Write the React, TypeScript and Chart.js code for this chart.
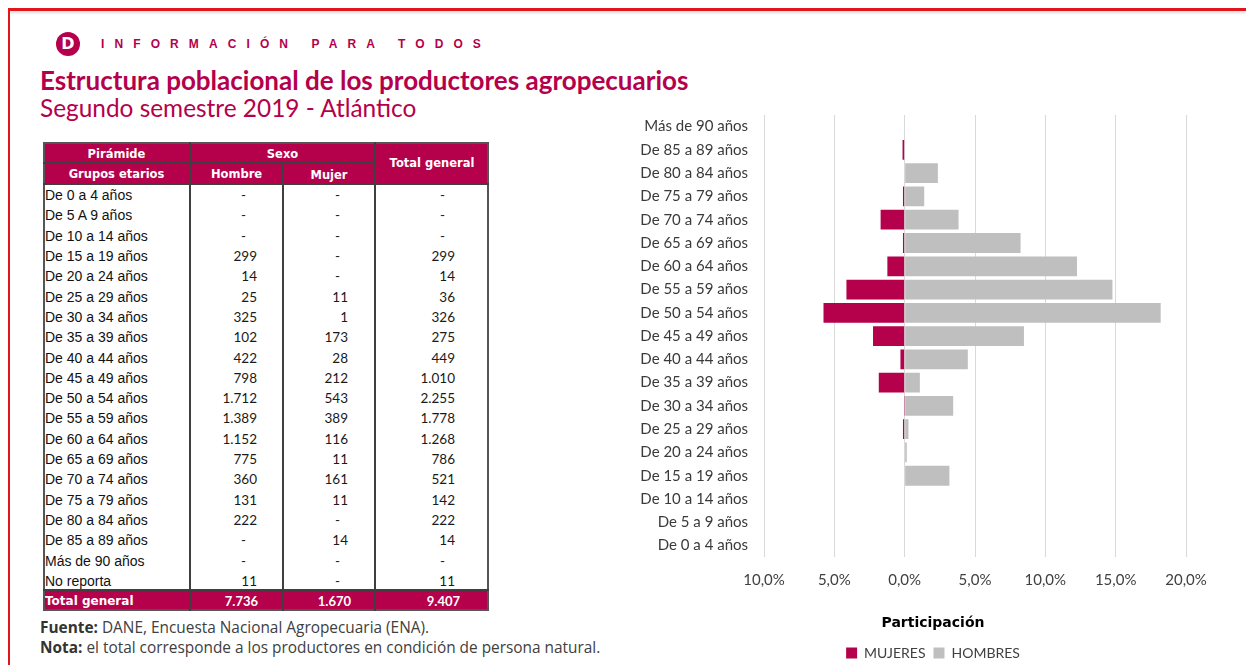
import React, { useEffect, useRef } from "react";
import { Chart, registerables } from "chart.js";

Chart.register(...registerables);

const CRIMSON = "#b5004b";
const GRAY_BAR = "#bfbfbf";

// ---- Chart data (participación, %) ----
const chartAgeGroups = [
  "Más de 90 años",
  "De 85 a 89 años",
  "De 80 a 84 años",
  "De 75 a 79 años",
  "De 70 a 74 años",
  "De 65 a 69 años",
  "De 60 a 64 años",
  "De 55 a 59 años",
  "De 50 a 54 años",
  "De 45 a 49 años",
  "De 40 a 44 años",
  "De 35 a 39 años",
  "De 30 a 34 años",
  "De 25 a 29 años",
  "De 20 a 24 años",
  "De 15 a 19 años",
  "De 10 a 14 años",
  "De 5 a 9 años",
  "De 0 a 4 años",
];
const menShare = [0, 0, 2.36, 1.39, 3.83, 8.24, 12.25, 14.77, 18.2, 8.48, 4.49, 1.08, 3.45, 0.27, 0.15, 3.18, 0, 0, 0];
const womenShare = [0, 0.15, 0, 0.12, 1.71, 0.12, 1.23, 4.14, 5.77, 2.25, 0.3, 1.84, 0.01, 0.12, 0, 0, 0, 0, 0];
const xMin = -10;
const xMax = 20;
const xStep = 5;

// ---- Table data ----
const tableGroups = [
  "De 0 a 4 años",
  "De 5 A 9 años",
  "De 10 a 14 años",
  "De 15 a 19 años",
  "De 20 a 24 años",
  "De 25 a 29 años",
  "De 30 a 34 años",
  "De 35 a 39 años",
  "De 40 a 44 años",
  "De 45 a 49 años",
  "De 50 a 54 años",
  "De 55 a 59 años",
  "De 60 a 64 años",
  "De 65 a 69 años",
  "De 70 a 74 años",
  "De 75 a 79 años",
  "De 80 a 84 años",
  "De 85 a 89 años",
  "Más de 90 años",
  "No reporta",
];
const tableHombre = ["-", "-", "-", "299", "14", "25", "325", "102", "422", "798", "1.712", "1.389", "1.152", "775", "360", "131", "222", "-", "-", "11"];
const tableMujer = ["-", "-", "-", "-", "-", "11", "1", "173", "28", "212", "543", "389", "116", "11", "161", "11", "-", "14", "-", "-"];
const tableTotal = ["-", "-", "-", "299", "14", "36", "326", "275", "449", "1.010", "2.255", "1.778", "1.268", "786", "521", "142", "222", "14", "-", "11"];
const tableTotals = ["7.736", "1.670", "9.407"];

// shifts the bottom legend and axis caption so they sit under the whole figure, as in the source
const bottomShiftPlugin = {
  id: "bottomShift",
  afterLayout(chart: any) {
    const shift = 27;
    for (const b of [chart.legend, chart.titleBlock]) {
      if (b) {
        b.left += shift;
        b.right += shift;
      }
    }
  },
};

function PyramidChart() {
  const ref = useRef<HTMLCanvasElement>(null);
  useEffect(() => {
    const tickFont = { family: "Lato", size: 15 };
    const chart = new Chart(ref.current as HTMLCanvasElement, {
      type: "bar",
      data: {
        labels: chartAgeGroups,
        datasets: [
          { label: "MUJERES", data: womenShare.map((v) => -v), backgroundColor: CRIMSON, borderWidth: 0 },
          { label: "HOMBRES", data: menShare, backgroundColor: GRAY_BAR, borderWidth: 0 },
        ],
      },
      options: {
        indexAxis: "y",
        responsive: false,
        animation: false,
        events: [],
        layout: { padding: { top: 17, right: 56, left: 0, bottom: 0 } },
        datasets: { bar: { barPercentage: 0.85, categoryPercentage: 1 } },
        scales: {
          x: {
            stacked: true,
            min: xMin,
            max: xMax,
            ticks: {
              stepSize: xStep,
              padding: 14,
              font: tickFont,
              color: "#404040",
              callback: (v: any) => Math.abs(Number(v)).toFixed(1).replace(".", ",") + "%",
            },
            grid: { color: "#d9d9d9", drawTicks: false },
            border: { display: false },
            afterFit: (s: any) => {
              s.height = 44;
            },
          },
          y: {
            stacked: true,
            ticks: { padding: 16, font: tickFont, color: "#3a3a3a" },
            grid: { display: false, drawTicks: false },
            border: { display: false },
            afterFit: (s: any) => {
              s.width = 138;
            },
          },
        },
        plugins: {
          legend: {
            position: "bottom",
            labels: { boxWidth: 11, boxHeight: 11, padding: 8, font: { family: "Lato", size: 14 }, color: "#404040" },
          },
          title: {
            display: true,
            text: "Participación",
            position: "bottom",
            weight: 500,
            padding: { top: 14, bottom: 6 },
            font: { family: "DejaVu Sans", size: 14, weight: "bold" },
            color: "#000",
          },
          tooltip: { enabled: false },
        },
      } as any,
      plugins: [bottomShiftPlugin],
    });
    return () => chart.destroy();
  }, []);
  return (
    <canvas
      ref={ref}
      width={616}
      height={580}
      style={{ position: "absolute", left: 626, top: 90, width: 616, height: 580 }}
    />
  );
}

const abs = (left: number, top: number, width: number, height: number, extra: any = {}) => ({
  position: "absolute" as const,
  left,
  top,
  width,
  height,
  ...extra,
});

function Text({ x, y, w, h, children, style }: any) {
  return (
    <div
      style={abs(x, y - h / 2, w, h, {
        lineHeight: h + "px",
        whiteSpace: "nowrap",
        ...style,
      })}
    >
      {children}
    </div>
  );
}

function DataTable() {
  const cols = [43, 190, 283, 375, 489];
  const headFont = { fontFamily: "DejaVu Sans", fontWeight: "bold", fontSize: 11.5, color: "#fff", textAlign: "center" };
  const rowTop = 185;
  const rowH = 20.3;
  const numFont = { fontFamily: "Lato", fontSize: 13.5, color: "#1a1a1a", textAlign: "right" };
  const numPad = [26, 27, 34];
  const dashPad = [37, 35, 44];
  const colsData = [tableHombre, tableMujer, tableTotal];
  const line = "#3f3f3f";
  return (
    <>
      <div style={abs(43, 142, 446, 42, { background: CRIMSON })} />
      <div style={abs(43, 590, 446, 21, { background: CRIMSON })} />
      {/* header texts */}
      <Text x={43} y={154} w={147} h={20} style={headFont}>Pirámide</Text>
      <Text x={43} y={174} w={147} h={20} style={headFont}>Grupos etarios</Text>
      <Text x={190} y={154} w={185} h={20} style={headFont}>Sexo</Text>
      <Text x={190} y={174} w={93} h={20} style={headFont}>Hombre</Text>
      <Text x={283} y={175} w={92} h={20} style={headFont}>Mujer</Text>
      <Text x={375} y={163} w={114} h={20} style={headFont}>Total general</Text>
      {/* body rows */}
      {tableGroups.map((g, i) => {
        const cy = rowTop + rowH * i + rowH / 2;
        return (
          <React.Fragment key={g}>
            <Text x={45} y={cy} w={140} h={20} style={{ fontFamily: "Liberation Sans", fontSize: 14, color: "#111" }}>
              {g}
            </Text>
            {colsData.map((col, c) => (
              <Text
                key={c}
                x={cols[c + 1]}
                y={cy}
                w={cols[c + 2] - cols[c + 1]}
                h={20}
                style={{ ...numFont, paddingRight: col[i] === "-" ? dashPad[c] : numPad[c], boxSizing: "border-box" }}
              >
                {col[i]}
              </Text>
            ))}
          </React.Fragment>
        );
      })}
      {/* total row */}
      <Text x={45} y={601} w={140} h={20} style={{ ...headFont, textAlign: "left", fontSize: 12 }}>
        Total general
      </Text>
      {tableTotals.map((t, c) => (
        <Text
          key={c}
          x={cols[c + 1]}
          y={601}
          w={cols[c + 2] - cols[c + 1]}
          h={20}
          style={{ fontFamily: "Lato", fontWeight: "bold", fontSize: 13, color: "#fff", textAlign: "right", paddingRight: [25, 24, 29][c], boxSizing: "border-box" }}
        >
          {t}
        </Text>
      ))}
      {/* borders */}
      <div style={abs(43, 142, 446, 469, { border: "2px solid #555", boxSizing: "border-box" })} />
      <div style={abs(43, 162, 332, 2, { background: line })} />
      <div style={abs(43, 183, 446, 2, { background: line })} />
      <div style={abs(43, 589, 446, 2, { background: line })} />
      <div style={abs(189, 142, 2, 469, { background: line })} />
      <div style={abs(282, 162, 2, 449, { background: line })} />
      <div style={abs(374, 142, 2, 469, { background: line })} />
    </>
  );
}

export default function App() {
  return (
    <div style={{ position: "fixed", left: 0, top: 0, width: 1246, height: 665, overflow: "hidden", background: "#fff" }}>
      {/* frame */}
      <div style={abs(8, 8, 1238, 3, { background: "#e0161b", boxShadow: "0 2px 3px rgba(0,0,0,0.15)" })} />
      <div style={abs(8, 8, 2, 660, { background: "#e0161b" })} />
      {/* logo */}
      <div
        style={abs(56, 32, 24, 24, {
          borderRadius: "50%",
          background: CRIMSON,
          color: "#fff",
          fontFamily: "DejaVu Sans",
          fontWeight: "bold",
          fontSize: 16,
          lineHeight: "24px",
          textAlign: "center",
        })}
      >
        D
      </div>
      <Text x={101} y={44} w={420} h={16} style={{ fontFamily: "Liberation Sans", fontWeight: "bold", fontSize: 12, letterSpacing: 10.1, color: CRIMSON }}>
        INFORMACIÓN PARA TODOS
      </Text>
      <Text x={40} y={80} w={720} h={32} style={{ fontFamily: "Lato", fontWeight: "bold", fontSize: 26, color: CRIMSON }}>
        Estructura poblacional de los productores agropecuarios
      </Text>
      <Text x={40} y={108} w={500} h={30} style={{ fontFamily: "Lato", fontSize: 24.4, color: CRIMSON }}>
        Segundo semestre 2019 - Atlántico
      </Text>
      <DataTable />
      <Text x={40} y={628} w={620} h={20} style={{ fontFamily: "Open Sans", fontSize: 15.4, color: "#404040" }}>
        <b style={{ color: "#333" }}>Fuente:</b> DANE, Encuesta Nacional Agropecuaria (ENA).
      </Text>
      <Text x={40} y={648} w={620} h={20} style={{ fontFamily: "Open Sans", fontSize: 15.4, color: "#404040" }}>
        <b style={{ color: "#333" }}>Nota:</b> el total corresponde a los productores en condición de persona natural.
      </Text>
      <PyramidChart />
    </div>
  );
}
